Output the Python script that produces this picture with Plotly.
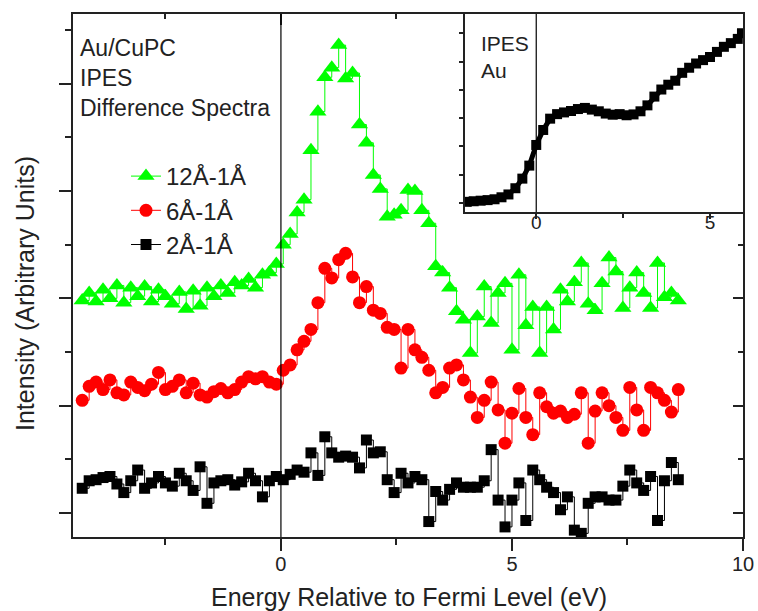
import plotly.graph_objects as go

# ---------------- data ----------------
energy = [-4.30, -4.15, -4.00, -3.85, -3.70, -3.55, -3.40, -3.25, -3.10, -2.95,
          -2.80, -2.65, -2.50, -2.35, -2.20, -2.05, -1.90, -1.75, -1.60, -1.45,
          -1.30, -1.15, -1.00, -0.85, -0.70, -0.55, -0.40, -0.25, -0.10, 0.05,
          0.20, 0.35, 0.50, 0.65, 0.80, 0.95, 1.10, 1.25, 1.40, 1.55,
          1.70, 1.85, 2.00, 2.15, 2.30, 2.45, 2.60, 2.75, 2.90, 3.05,
          3.20, 3.35, 3.50, 3.65, 3.80, 3.95, 4.10, 4.25, 4.40, 4.55,
          4.70, 4.85, 5.00, 5.15, 5.30, 5.45, 5.60, 5.75, 5.90, 6.05,
          6.20, 6.35, 6.50, 6.65, 6.80, 6.95, 7.10, 7.25, 7.40, 7.55,
          7.70, 7.85, 8.00, 8.15, 8.30, 8.45, 8.60]

diff_12 = [1.98, 2.05, 1.97, 2.08, 2.00, 2.12, 1.96, 2.10, 2.02, 2.11,
           1.97, 2.08, 2.02, 1.95, 2.06, 1.90, 2.07, 1.93, 2.10, 2.02,
           2.12, 2.05, 2.15, 2.12, 2.18, 2.10, 2.22, 2.24, 2.32, 2.50,
           2.60, 2.80, 2.92, 3.38, 3.74, 4.06, 4.15, 4.36, 4.05, 4.10,
           3.62, 3.45, 3.15, 3.02, 2.76, 2.78, 2.82, 3.01, 3.00, 2.82,
           2.70, 2.30, 2.24, 2.10, 1.88, 1.80, 1.49, 1.83, 2.11, 1.77,
           2.05, 2.14, 1.52, 2.22, 1.75, 1.92, 1.49, 1.92, 1.71, 2.08,
           1.97, 2.15, 2.33, 1.95, 1.89, 2.14, 2.38, 2.25, 1.91, 2.10,
           2.24, 2.05, 1.91, 2.33, 2.01, 2.05, 1.98]

diff_6 = [1.05, 1.18, 1.22, 1.15, 1.24, 1.12, 1.10, 1.22, 1.17, 1.14,
          1.20, 1.31, 1.15, 1.18, 1.24, 1.12, 1.21, 1.10, 1.08, 1.13,
          1.16, 1.12, 1.15, 1.22, 1.27, 1.25, 1.27, 1.22, 1.20, 1.33,
          1.38, 1.52, 1.60, 1.71, 1.96, 2.28, 2.19, 2.36, 2.42, 2.20,
          1.96, 2.11, 1.89, 1.86, 1.73, 1.71, 1.35, 1.71, 1.52, 1.45,
          1.33, 1.12, 1.17, 1.35, 1.38, 1.24, 1.08, 0.89, 1.05, 1.22,
          0.96, 0.65, 0.93, 1.16, 0.89, 0.73, 1.12, 0.99, 0.93, 0.95,
          0.89, 0.92, 1.12, 0.65, 0.95, 1.12, 1.00, 0.89, 0.77, 1.17,
          0.96, 0.77, 1.17, 1.12, 1.05, 0.94, 1.15]

diff_2 = [0.23, 0.30, 0.31, 0.33, 0.34, 0.27, 0.19, 0.30, 0.40, 0.23,
          0.28, 0.34, 0.28, 0.25, 0.37, 0.30, 0.21, 0.43, 0.09, 0.28,
          0.30, 0.31, 0.26, 0.29, 0.37, 0.30, 0.15, 0.30, 0.34, 0.31,
          0.36, 0.40, 0.38, 0.56, 0.35, 0.71, 0.56, 0.52, 0.53, 0.52,
          0.42, 0.68, 0.56, 0.57, 0.31, 0.19, 0.37, 0.28, 0.34, 0.31,
          -0.08, 0.20, 0.12, 0.22, 0.28, 0.24, 0.24, 0.24, 0.30, 0.59,
          0.12, -0.13, 0.12, 0.28, -0.07, 0.40, 0.31, 0.24, 0.19, 0.03,
          0.15, -0.16, -0.19, 0.09, 0.15, 0.15, 0.12, 0.12, 0.25, 0.40,
          0.28, 0.21, 0.34, -0.07, 0.30, 0.47, 0.31]

inset_energy = [-2.0, -1.8, -1.6, -1.4, -1.2, -1.0, -0.8, -0.6, -0.4, -0.2,
                0.0, 0.2, 0.4, 0.6, 0.8, 1.0, 1.2, 1.4, 1.6, 1.8,
                2.0, 2.2, 2.4, 2.6, 2.8, 3.0, 3.2, 3.4, 3.6, 3.8,
                4.0, 4.2, 4.4, 4.6, 4.8, 5.0, 5.2, 5.4, 5.6, 5.8, 5.92]
inset_au = [0.04, 0.06, 0.08, 0.10, 0.13, 0.20, 0.30, 0.52, 0.86, 1.32,
            2.05, 2.58, 2.98, 3.14, 3.20, 3.25, 3.32, 3.36, 3.30, 3.24,
            3.16, 3.12, 3.14, 3.10, 3.13, 3.24, 3.45, 3.76, 4.01, 4.18,
            4.32, 4.60, 4.78, 4.93, 5.05, 5.16, 5.34, 5.52, 5.65, 5.80, 6.00]

series_names = ["12Å-1Å", "6Å-1Å", "2Å-1Å"]
x_tick_vals = [0, 5, 10]
x_tick_text = ["0", "5", "10"]
inset_tick_vals = [0, 5]
inset_tick_text = ["0", "5"]

# ---------------- style ----------------
FONT = "Arial, Liberation Sans, sans-serif"
TXT = "#222222"
AX = "#222222"
W, H = 758, 611

main_x_dom = [73 / W, 743 / W]
main_y_dom = [1 - 537 / H, 1 - 14 / H]
ins_x_dom = [465 / W, 743 / W]
ins_y_dom = [1 - 212 / H, 1 - 14 / H]

fig = go.Figure()

styles = [
    dict(color="#00ff00", symbol="triangle-up", size=15),
    dict(color="#ff0000", symbol="circle", size=13),
    dict(color="#000000", symbol="square", size=11),
]
for name, vals, st in zip(series_names, [diff_12, diff_6, diff_2], styles):
    fig.add_trace(go.Scatter(
        x=energy, y=vals, name=name, mode="lines+markers",
        line=dict(color=st["color"], width=1, shape="hv"),
        marker=dict(color=st["color"], symbol=st["symbol"], size=st["size"],
                    line=dict(width=0)),
        xaxis="x", yaxis="y"))

fig.add_trace(go.Scatter(
    x=inset_energy, y=inset_au, mode="lines+markers", showlegend=False,
    line=dict(color="black", width=5),
    marker=dict(color="black", symbol="square", size=10),
    xaxis="x2", yaxis="y2"))

# dummy trace so that the overlay (inside top/right ticks) axes render
fig.add_trace(go.Scatter(x=[], y=[], xaxis="x3", yaxis="y3",
                         showlegend=False, hoverinfo="skip"))

tickfont = dict(family=FONT, size=20, color=TXT)

fig.update_layout(
    template="none",
    width=W, height=H, autosize=False,
    margin=dict(l=0, r=0, t=0, b=0, pad=0, autoexpand=False),
    paper_bgcolor="white", plot_bgcolor="white",
    font=dict(family=FONT, color=TXT),
    showlegend=True,
    legend=dict(x=126 / W, y=1 - 154 / H, xanchor="left", yanchor="top",
                bgcolor="rgba(0,0,0,0)", borderwidth=0,
                font=dict(family=FONT, size=24, color=TXT),
                tracegroupgap=0, itemwidth=30),
    xaxis=dict(domain=main_x_dom, anchor="y", range=[-4.5, 10], automargin=False,
               showline=True, linecolor=AX, linewidth=1.5, mirror=True,
               showgrid=False, zeroline=False,
               tickmode="array", tickvals=x_tick_vals, ticktext=x_tick_text,
               ticks="outside", ticklen=12, tickwidth=1.5, tickcolor=AX,
               tickfont=tickfont, ticklabelstandoff=-4,
               minor=dict(tickmode="array", tickvals=[-2.5, 2.5, 7.5],
                          ticks="outside", ticklen=6, tickwidth=1.5, tickcolor=AX,
                          showgrid=False)),
    yaxis=dict(domain=main_y_dom, anchor="x", range=[-0.224, 4.65], automargin=False,
               showline=True, linecolor=AX, linewidth=1.5, mirror=True,
               showgrid=False, zeroline=False, showticklabels=False,
               tick0=0, dtick=1, ticks="outside", ticklen=12, tickwidth=1.5,
               tickcolor=AX,
               minor=dict(tick0=0.5, dtick=1, ticks="outside", ticklen=6,
                          tickwidth=1.5, tickcolor=AX, showgrid=False)),
    xaxis3=dict(domain=main_x_dom, anchor="y3", overlaying="x", side="top",
                range=[-4.5, 10], automargin=False,
                showline=False, showgrid=False, zeroline=False,
                showticklabels=False, tick0=0, dtick=5, ticks="inside",
                ticklen=11, tickwidth=1.5, tickcolor=AX,
                minor=dict(tick0=2.5, dtick=5, ticks="inside", ticklen=5,
                           tickwidth=1.5, tickcolor=AX, showgrid=False)),
    yaxis3=dict(domain=main_y_dom, anchor="x3", overlaying="y", side="right",
                range=[-0.224, 4.65], automargin=False, showline=False,
                showgrid=False, zeroline=False, showticklabels=False, tick0=0,
                dtick=1, ticks="inside", ticklen=10, tickwidth=1.5, tickcolor=AX,
                minor=dict(tick0=0.5, dtick=1, ticks="inside", ticklen=5,
                           tickwidth=1.5, tickcolor=AX, showgrid=False)),
    xaxis2=dict(domain=ins_x_dom, anchor="y2", range=[-2.05, 5.95], automargin=False,
                showline=True, linecolor=AX, linewidth=1.5, mirror=False,
                showgrid=False, zeroline=False,
                tickmode="array", tickvals=inset_tick_vals, ticktext=inset_tick_text,
                ticks="outside", ticklen=5, tickwidth=1.5, tickcolor=AX,
                tickfont=dict(family=FONT, size=19, color=TXT),
                ticklabelstandoff=-13,
                minor=dict(tickmode="array", tickvals=[2.5], ticks="outside",
                           ticklen=4, tickwidth=1.5, tickcolor=AX, showgrid=False)),
    yaxis2=dict(domain=ins_y_dom, anchor="x2", range=[-0.32, 6.68], automargin=False,
                showline=True, linecolor=AX, linewidth=1.5, mirror=False,
                showgrid=False, zeroline=False, showticklabels=False,
                tick0=0, dtick=1, ticks="outside", ticklen=4, tickwidth=1.5,
                tickcolor=AX),
)

# vertical Fermi-level lines
fig.add_shape(type="line", xref="x", yref="y domain", x0=0, x1=0, y0=0, y1=1,
              line=dict(color="black", width=1.2))
fig.add_shape(type="line", xref="x2", yref="y2 domain", x0=0, x1=0, y0=0, y1=1,
              line=dict(color="black", width=1.2))

# texts
fig.add_annotation(xref="paper", yref="paper", x=78 / W, y=1 - 33 / H,
                   xanchor="left", yanchor="top", align="left", showarrow=False,
                   text="Au/CuPC<br>IPES<br>Difference Spectra",
                   font=dict(family=FONT, size=23, color=TXT))
fig.add_annotation(xref="paper", yref="paper", x=479 / W, y=1 - 30 / H,
                   xanchor="left", yanchor="top", align="left", showarrow=False,
                   text="IPES<br>Au", font=dict(family=FONT, size=21, color=TXT))
fig.add_annotation(xref="paper", yref="paper", x=409 / W, y=1 - 597 / H,
                   xanchor="center", yanchor="middle", showarrow=False,
                   text="Energy Relative to Fermi Level (eV)",
                   font=dict(family=FONT, size=25, color=TXT))
fig.add_annotation(xref="paper", yref="paper", x=25 / W, y=1 - 294 / H,
                   xanchor="center", yanchor="middle", showarrow=False,
                   textangle=-90, text="Intensity (Arbitrary Units)",
                   font=dict(family=FONT, size=25, color=TXT))

fig.write_html(
    "out.html",
    config={"displayModeBar": False},
    post_script="document.body.style.margin='0';document.body.style.padding='0';"
                "document.body.style.overflow='hidden';",
)
